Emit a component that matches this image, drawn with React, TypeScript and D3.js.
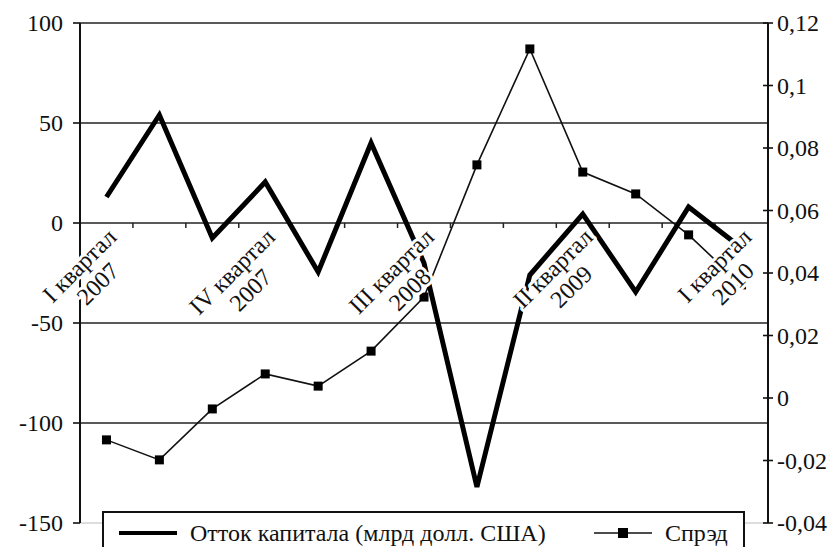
import React from "react";
import * as d3 from "d3";

const categories = [
  "I квартал 2007", "II квартал 2007", "III квартал 2007", "IV квартал 2007",
  "I квартал 2008", "II квартал 2008", "III квартал 2008", "IV квартал 2008",
  "I квартал 2009", "II квартал 2009", "III квартал 2009", "IV квартал 2009",
  "I квартал 2010",
];
const shownLabelIdx = [0, 3, 6, 9, 12];
const outflow = [13, 54, -7.5, 20.5, -24.5, 40, -20, -132, -26, 4.5, -34.5, 8, -12.5];
const spread = [-0.0134, -0.0198, -0.0035, 0.0077, 0.0038, 0.015, 0.0323, 0.0746, 0.1117, 0.0723, 0.0653, 0.0522, 0.0362];
const leftTicks = [100, 50, 0, -50, -100, -150];
const rightTicks = [0.12, 0.1, 0.08, 0.06, 0.04, 0.02, 0, -0.02, -0.04];
const seriesNames = ["Отток капитала (млрд долл. США)", "Спрэд"];

const W = 836, H = 547;
const L = 80, R = 768, T = 23, B = 523;
const FONT = "Liberation Serif, Tinos, Times New Roman, serif";
const FS = 24;

let ctx: CanvasRenderingContext2D | null = null;
function measure(s: string) {
  if (!ctx) ctx = document.createElement("canvas").getContext("2d");
  if (!ctx) return s.length * FS * 0.45;
  ctx.font = `${FS}px ${FONT}`;
  return ctx.measureText(s).width;
}

const fmtRight = (v: number) => {
  if (v === 0) return "0";
  return String(+v.toFixed(2)).replace(".", ",");
};

export default function App() {
  const x = d3.scaleBand<string>().domain(categories).range([L, R]);
  const cx = (i: number) => (x(categories[i]) as number) + x.bandwidth() / 2;
  const yL = d3.scaleLinear().domain([-150, 100]).range([B, T]);
  const yR = d3.scaleLinear().domain([-0.04, 0.12]).range([B, T]);

  const outflowPath = d3.line<number>().x((_, i) => cx(i)).y((d) => yL(d))(outflow) || "";
  const spreadPath = d3.line<number>().x((_, i) => cx(i)).y((d) => yR(d))(spread) || "";
  const y0 = yL(0);

  return (
    <svg width={W} height={H} style={{ position: "absolute", left: 0, top: 0, background: "#fff" }}
      fontFamily={FONT} fontSize={FS}>
      <rect x={0} y={0} width={W} height={H} fill="#fff" />
      {leftTicks.filter((t) => t !== 0 && t !== -150).map((t) => (
        <line key={t} x1={L} x2={R} y1={yL(t)} y2={yL(t)} stroke="#222" strokeWidth={1.6} />
      ))}
      <line x1={L} x2={R} y1={yL(-150)} y2={yL(-150)} stroke="#bbb" strokeWidth={1.2} />
      <line x1={L} x2={R} y1={y0} y2={y0} stroke="#222" strokeWidth={1.6} />
      {d3.range(1, categories.length).map((k) => {
        const xx = x(categories[k]) as number;
        return <line key={k} x1={xx} x2={xx} y1={y0} y2={y0 + 5} stroke="#222" strokeWidth={1.5} />;
      })}
      <line x1={L} x2={L} y1={T} y2={B} stroke="#111" strokeWidth={2} />
      {leftTicks.map((t) => (
        <g key={t}>
          <line x1={L - 7} x2={L} y1={yL(t)} y2={yL(t)} stroke="#111" strokeWidth={1.6} />
          <text x={L - 17} y={yL(t)} dy="0.35em" textAnchor="end" fill="#111">{t}</text>
        </g>
      ))}
      <line x1={R} x2={R} y1={T} y2={B} stroke="#111" strokeWidth={2} />
      {rightTicks.map((t) => (
        <g key={t}>
          <line x1={R - 5} x2={R + 5} y1={yR(t)} y2={yR(t)} stroke="#111" strokeWidth={1.6} />
          <text x={R + 9} y={yR(t)} dy="0.35em" textAnchor="start" fill="#111">{fmtRight(t)}</text>
        </g>
      ))}
      <path d={spreadPath} fill="none" stroke="#111" strokeWidth={1.6} />
      {spread.map((v, i) => (
        <rect key={i} x={cx(i) - 4.5} y={yR(v) - 4.5} width={9} height={9} fill="#000" />
      ))}
      <path d={outflowPath} fill="none" stroke="#000" strokeWidth={5} strokeLinejoin="miter" strokeMiterlimit={4} />
      {shownLabelIdx.map((i) => {
        const c = categories[i];
        const sp = c.lastIndexOf(" ");
        const l1 = c.slice(0, sp);
        const l2 = c.slice(sp + 1);
        const w = Math.max(measure(l1), measure(l2));
        return (
          <g key={i} transform={`translate(${cx(i) - 2},${y0 + 2}) rotate(-45)`}>
            <text textAnchor="middle" fill="#111" stroke="#fff" strokeWidth={6} paintOrder="stroke" strokeLinejoin="round">
              <tspan x={-w / 2} y={19}>{l1}</tspan>
              <tspan x={-w / 2} y={45}>{l2}</tspan>
            </text>
          </g>
        );
      })}
      <rect x={103} y={512} width={641} height={50} fill="#fff" stroke="#111" strokeWidth={2} />
      <line x1={119} x2={177} y1={533} y2={533} stroke="#000" strokeWidth={4} />
      <text x={190} y={541} fill="#111">{seriesNames[0]}</text>
      <line x1={594} x2={652} y1={533} y2={533} stroke="#111" strokeWidth={1.6} />
      <rect x={618} y={528} width={10} height={10} fill="#000" />
      <text x={665} y={541} fill="#111">{seriesNames[1]}</text>
    </svg>
  );
}
